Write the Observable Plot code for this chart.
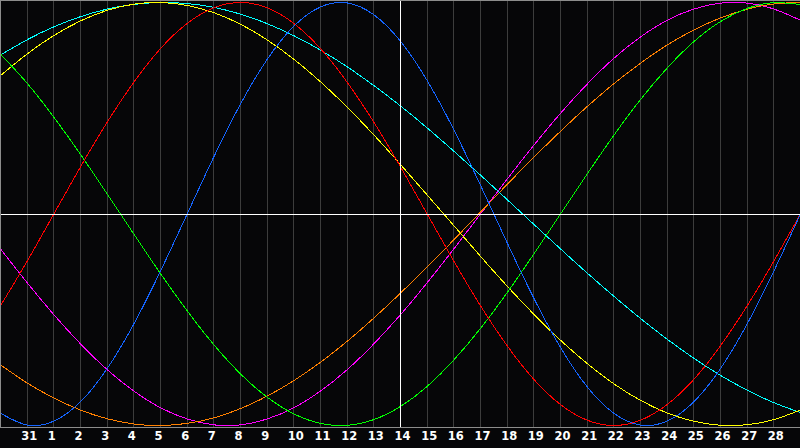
<!DOCTYPE html>
<html>
<head>
<meta charset="utf-8">
<script src="https://cdn.jsdelivr.net/npm/d3@7"></script>
<script src="https://cdn.jsdelivr.net/npm/@observablehq/plot@0.6"></script>
<style>
  html, body { margin: 0; padding: 0; background: #060608; }
  #chart { width: 800px; height: 448px; overflow: hidden; }
</style>
</head>
<body>
<div id="chart"></div>
<script>
// Day index: -1 = left edge, 0 = "31", 1..28 = days of month, 29 = right edge
const dayIndex = [-1,0,1,2,3,4,5,6,7,8,9,10,11,12,13,14,15,16,17,18,19,20,21,22,23,24,25,26,27,28,29];
const tickPos = [0,1,2,3,4,5,6,7,8,9,10,11,12,13,14,15,16,17,18,19,20,21,22,23,24,25,26,27,28];
const tickLabels = ["31","1","2","3","4","5","6","7","8","9","10","11","12","13","14","15","16","17","18","19","20","21","22","23","24","25","26","27","28"];
const todayPos = 14;

const red = [-0.434,-0.223,0,0.223,0.434,0.623,0.782,0.901,0.975,1,0.975,0.901,0.782,0.623,0.434,0.223,0,-0.223,-0.434,-0.623,-0.782,-0.901,-0.975,-1,-0.975,-0.901,-0.782,-0.623,-0.434,-0.223,0];
const blue = [-0.942,-0.998,-0.979,-0.888,-0.731,-0.520,-0.270,0,0.270,0.520,0.731,0.888,0.979,0.998,0.942,0.817,0.631,0.398,0.136,-0.136,-0.398,-0.631,-0.817,-0.942,-0.998,-0.979,-0.888,-0.731,-0.520,-0.270,0];
const green = [0.756,0.618,0.458,0.282,0.095,-0.095,-0.282,-0.458,-0.618,-0.756,-0.866,-0.945,-0.990,-0.999,-0.972,-0.910,-0.815,-0.690,-0.541,-0.372,-0.189,0,0.189,0.372,0.541,0.690,0.815,0.910,0.972,0.999,0.990];
const yellow = [0.654,0.757,0.844,0.913,0.963,0.992,1.000,0.986,0.952,0.897,0.823,0.732,0.625,0.505,0.374,0.234,0.090,-0.055,-0.200,-0.341,-0.474,-0.597,-0.707,-0.803,-0.881,-0.941,-0.980,-0.999,-0.996,-0.972,-0.927];
const cyan = [0.752,0.824,0.885,0.933,0.969,0.991,1.000,0.995,0.977,0.945,0.900,0.843,0.775,0.696,0.607,0.511,0.407,0.297,0.184,0.068,-0.049,-0.165,-0.279,-0.389,-0.494,-0.592,-0.682,-0.763,-0.833,-0.892,-0.939];
const magenta = [-0.165,-0.325,-0.476,-0.614,-0.736,-0.837,-0.916,-0.969,-0.997,-0.997,-0.969,-0.916,-0.837,-0.736,-0.614,-0.476,-0.325,-0.165,0,0.165,0.325,0.476,0.614,0.736,0.837,0.916,0.969,0.997,0.997,0.969,0.916];
const orange = [-0.713,-0.799,-0.870,-0.927,-0.968,-0.993,-1.000,-0.990,-0.964,-0.920,-0.861,-0.788,-0.701,-0.602,-0.492,-0.374,-0.250,-0.122,0.009,0.140,0.268,0.391,0.508,0.616,0.713,0.799,0.870,0.927,0.968,0.993,1.000];

const series = [
  {name: "magenta", values: magenta, color: "#ff00ff"},
  {name: "orange", values: orange, color: "#ff8000"},
  {name: "cyan", values: cyan, color: "#00ffff"},
  {name: "yellow", values: yellow, color: "#ffff00"},
  {name: "green", values: green, color: "#00ff00"},
  {name: "red", values: red, color: "#ff0000"},
  {name: "blue", values: blue, color: "#1464ff"}
];

const lineMarks = series.map(s =>
  Plot.line(dayIndex.map((d, i) => ({day: d, v: s.values[i]})), {
    x: "day", y: "v", stroke: s.color, strokeWidth: 1, curve: "natural"
  })
);

const chart = Plot.plot({
  width: 800,
  height: 448,
  marginTop: 0,
  marginRight: 0,
  marginLeft: 0,
  marginBottom: 21,
  style: {background: "#060608", overflow: "hidden"},
  x: {domain: [-1, 29], axis: null},
  y: {domain: [-1, 1], axis: null, insetTop: 2, insetBottom: 2},
  marks: [
    Plot.ruleX(tickPos.filter(d => d !== todayPos), {x: d => d, stroke: "#3c3c3c", strokeWidth: 1}),
    ...lineMarks,
    Plot.ruleY([0], {stroke: "#ffffff", strokeWidth: 1}),
    Plot.ruleX([todayPos], {stroke: "#ffffff", strokeWidth: 1}),
    Plot.frame({stroke: "#8c8c8c", strokeWidth: 1}),
    Plot.text(tickPos, {
      x: d => d,
      text: (d, i) => tickLabels[i],
      frameAnchor: "bottom",
      dy: 12,
      dx: -6,
      textAnchor: "start",
      fill: "#ffffff",
      fontWeight: "bold",
      fontSize: 11.5,
      fontFamily: "DejaVu Sans"
    })
  ]
});
chart.querySelectorAll("path, line, rect").forEach(p => p.setAttribute("shape-rendering", "crispEdges"));
document.getElementById("chart").appendChild(chart);
</script>
</body>
</html>
